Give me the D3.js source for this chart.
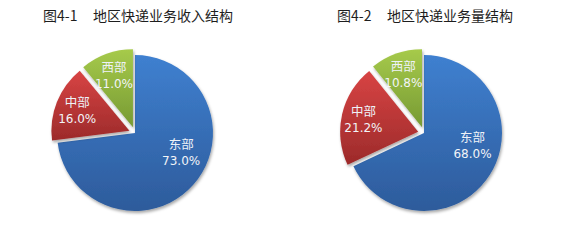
<!DOCTYPE html>
<html>
<head>
<meta charset="utf-8">
<script src="https://cdn.jsdelivr.net/npm/d3@7"></script>
<style>
  body { margin: 0; background: #fff; }
  .title { font-family: "Noto Sans CJK SC", sans-serif; font-size: 14px; fill: #1e1e1e; }
  .lab-name { font-family: "Noto Sans CJK SC", serif; font-size: 12.5px; fill: #eef2f8; }
  .lab-pct { font-family: "DejaVu Sans", sans-serif; font-size: 12px; fill: #f2f4f8; }
</style>
</head>
<body>
<div id="chart"></div>
<script>
// Data
// ============================================================================
const regions = ["东部", "中部", "西部"];
const revenueShare = [73.0, 16.0, 11.0];
const volumeShare = [68.0, 21.2, 10.8];
const titleNums = ["图4-1", "图4-2"];
const titleTexts = ["地区快递业务收入结构", "地区快递业务量结构"];

const width = 588, height = 245,
    radius = 78,
    explode = 6;

const colors = [
    {top: "#3f80d0", bottom: "#2d5b9b"},
    {top: "#d84444", bottom: "#9c2a2a"},
    {top: "#a6ca4b", bottom: "#779a33"},
];

const svg = d3.select("#chart")
    .append("svg")
        .attr("width", width)
        .attr("height", height);

// Gradients + shadow
const defs = svg.append("defs");
colors.forEach((c, i) => {
    const g = defs.append("linearGradient")
        .attr("id", "grad" + i)
        .attr("x1", 0).attr("y1", 0).attr("x2", 0).attr("y2", 1);
    g.append("stop").attr("offset", "0%").attr("stop-color", c.top);
    g.append("stop").attr("offset", "100%").attr("stop-color", c.bottom);
});
defs.append("filter")
    .attr("id", "shadow")
    .attr("x", "-20%").attr("y", "-20%").attr("width", "140%").attr("height", "140%")
    .append("feDropShadow")
        .attr("dx", 1).attr("dy", 2)
        .attr("stdDeviation", 1.8)
        .attr("flood-color", "#000")
        .attr("flood-opacity", 0.35);

const pie = d3.pie().sort(null).value(d => d.value);
const arc = d3.arc().innerRadius(0).outerRadius(radius);

function drawPie(values, cx, cy, titleX, num, text) {
    const data = regions.map((r, i) => ({name: r, value: values[i], idx: i}));
    const arcs = pie(data);

    // Title
    const t = svg.append("text")
        .attr("class", "title")
        .attr("y", 21);
    t.append("tspan").attr("x", titleX).text(num);
    t.append("tspan").attr("x", titleX + 50).text(text);

    const g = svg.append("g")
        .attr("transform", "translate(" + cx + "," + cy + ")");

    const slice = g.selectAll("g.slice")
        .data(arcs)
        .enter()
        .append("g")
            .attr("class", "slice")
            .attr("transform", d => {
                if (d.index === 0) return null;
                const a = (d.startAngle + d.endAngle) / 2;
                return "translate(" + (Math.sin(a) * explode) + "," + (-Math.cos(a) * explode) + ")";
            });

    slice.append("path")
        .attr("d", arc)
        .attr("fill", d => "url(#grad" + d.data.idx + ")")
        .attr("filter", "url(#shadow)");

    // Labels: big slice label sits nearer the top of its arc
    const labelPos = d => {
        let a = (d.startAngle + d.endAngle) / 2, r = radius * 0.72;
        if (d.data.value > 50) {
            a -= 19 * Math.PI / 180;
            r = radius * 0.64;
        }
        return [Math.sin(a) * r, -Math.cos(a) * r];
    };

    slice.append("text")
        .attr("class", "lab-name")
        .attr("text-anchor", "middle")
        .attr("x", d => labelPos(d)[0])
        .attr("y", d => labelPos(d)[1] - 3)
        .text(d => d.data.name);

    slice.append("text")
        .attr("class", "lab-pct")
        .attr("text-anchor", "middle")
        .attr("x", d => labelPos(d)[0])
        .attr("y", d => labelPos(d)[1] + 13)
        .text(d => d.data.value.toFixed(1) + "%");
}

drawPie(revenueShare, 135, 133, 43, titleNums[0], titleTexts[0]);
drawPie(volumeShare, 424, 133, 337, titleNums[1], titleTexts[1]);
</script>
</body>
</html>
